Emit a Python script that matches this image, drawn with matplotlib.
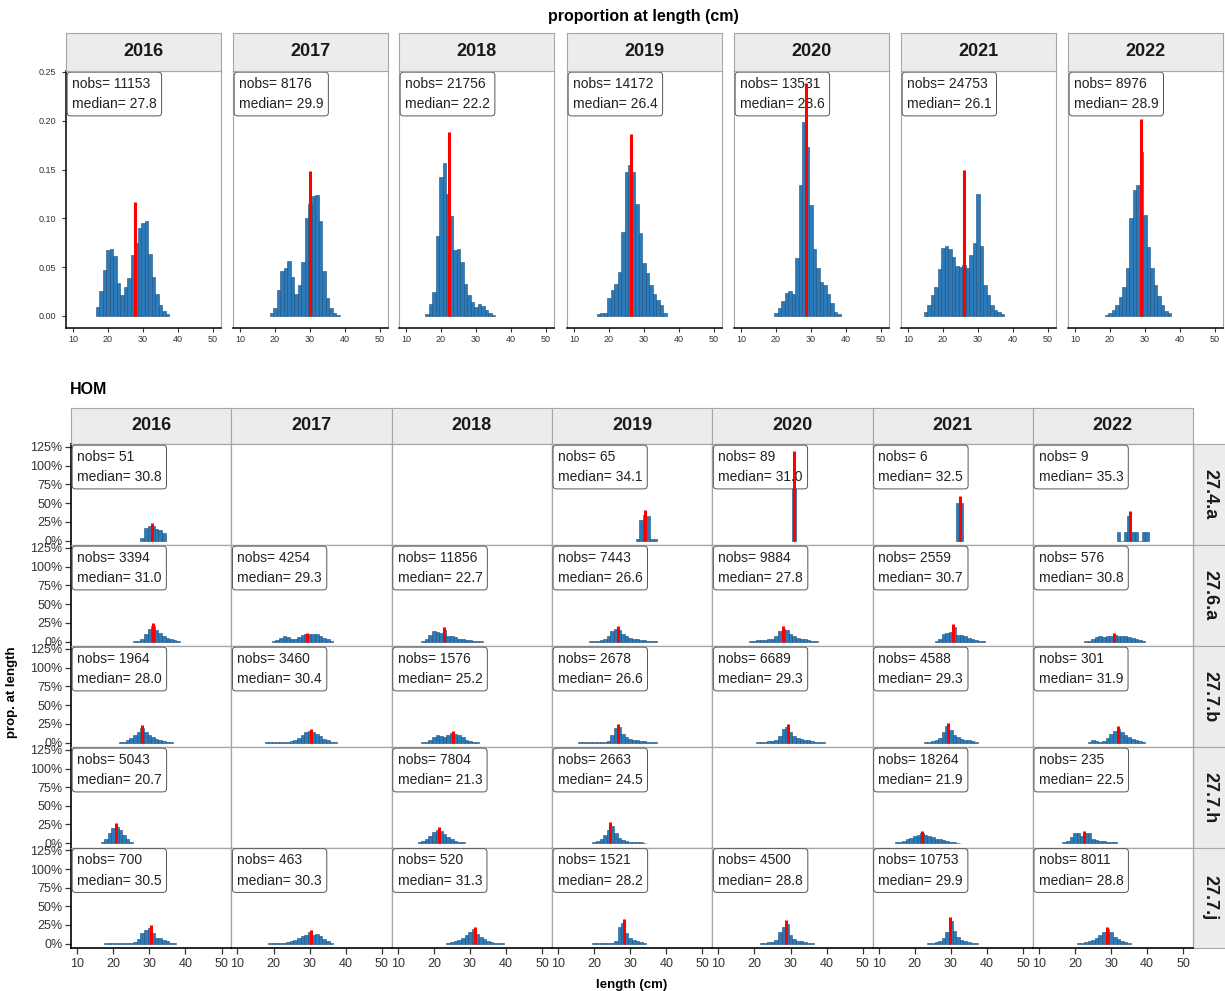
import matplotlib
matplotlib.use('Agg')
import matplotlib.pyplot as plt

plt.rcParams['font.family'] = ['Liberation Sans', 'DejaVu Sans']

# ---------------- data ----------------
years = ['2016', '2017', '2018', '2019', '2020', '2021', '2022']

# top panel: all areas combined
top_nobs = [11153, 8176, 21756, 14172, 13531, 24753, 8976]
top_median = [27.8, 29.9, 22.2, 26.4, 28.6, 26.1, 28.9]
top_start = [17, 19, 16, 17, 20, 15, 19]
top_p2016 = [0.009, 0.026, 0.047, 0.068, 0.069, 0.061, 0.034, 0.022, 0.030, 0.039, 0.062,
             0.075, 0.090, 0.095, 0.097, 0.064, 0.040, 0.023, 0.011, 0.005, 0.002]
top_p2017 = [0.003, 0.008, 0.027, 0.046, 0.049, 0.056, 0.040, 0.023, 0.032, 0.055, 0.100,
             0.115, 0.123, 0.124, 0.097, 0.046, 0.018, 0.008, 0.003, 0.001]
top_p2018 = [0.002, 0.012, 0.025, 0.082, 0.142, 0.157, 0.125, 0.102, 0.068, 0.069, 0.055,
             0.033, 0.022, 0.014, 0.009, 0.012, 0.010, 0.006, 0.003, 0.001]
top_p2019 = [0.002, 0.003, 0.003, 0.018, 0.027, 0.033, 0.045, 0.086, 0.148, 0.155, 0.148,
             0.115, 0.085, 0.054, 0.044, 0.032, 0.023, 0.016, 0.011, 0.003]
top_p2020 = [0.003, 0.008, 0.015, 0.024, 0.026, 0.023, 0.059, 0.134, 0.199, 0.173, 0.114,
             0.069, 0.049, 0.035, 0.032, 0.023, 0.013, 0.004, 0.002]
top_p2021 = [0.004, 0.011, 0.021, 0.030, 0.048, 0.070, 0.072, 0.069, 0.060, 0.051, 0.050,
             0.052, 0.049, 0.062, 0.075, 0.125, 0.072, 0.032, 0.022, 0.011, 0.006, 0.004, 0.002]
top_p2022 = [0.001, 0.003, 0.006, 0.011, 0.019, 0.030, 0.049, 0.100, 0.129, 0.134, 0.168,
             0.103, 0.071, 0.049, 0.032, 0.020, 0.011, 0.005, 0.003]
top_props = [top_p2016, top_p2017, top_p2018, top_p2019, top_p2020, top_p2021, top_p2022]

# bottom panel: HOM by area
areas = ['27.4.a', '27.6.a', '27.7.b', '27.7.h', '27.7.j']

a274a_nobs = [51, None, None, 65, 89, 6, 9]
a274a_median = [30.8, None, None, 34.1, 31.0, 32.5, 35.3]
a274a_start = [28, None, None, 32, 31, 32, 32]
a274a_props = [[0.04, 0.17, 0.19, 0.20, 0.16, 0.14, 0.10], None, None,
               [0.015, 0.28, 0.34, 0.33, 0.02, 0.015], [1.0], [0.5, 0.5],
               [0.111, 0, 0.111, 0.333, 0.111, 0.111, 0, 0.111, 0.111]]

a276a_nobs = [3394, 4254, 11856, 7443, 9884, 2559, 576]
a276a_median = [31.0, 29.3, 22.7, 26.6, 27.8, 30.7, 30.8]
a276a_start = [26, 20, 17, 19, 19, 26, 23]
a276a_props = [[0.005, 0.01, 0.04, 0.10, 0.17, 0.21, 0.15, 0.11, 0.08, 0.05, 0.03, 0.015, 0.01],
               [0.01, 0.02, 0.05, 0.07, 0.06, 0.04, 0.03, 0.06, 0.09, 0.10, 0.10, 0.10, 0.10,
                0.08, 0.05, 0.03, 0.01],
               [0.01, 0.03, 0.09, 0.14, 0.13, 0.11, 0.16, 0.07, 0.07, 0.06, 0.04, 0.03, 0.02,
                0.015, 0.01, 0.01, 0.005],
               [0.005, 0.005, 0.01, 0.02, 0.04, 0.08, 0.14, 0.17, 0.15, 0.10, 0.07, 0.05, 0.04,
                0.03, 0.02, 0.015, 0.01, 0.005, 0.005],
               [0.005, 0.01, 0.015, 0.02, 0.025, 0.03, 0.04, 0.07, 0.14, 0.17, 0.15, 0.10, 0.07,
                0.05, 0.04, 0.03, 0.02, 0.01, 0.005],
               [0.005, 0.03, 0.10, 0.12, 0.13, 0.19, 0.09, 0.09, 0.07, 0.05, 0.04, 0.02, 0.01, 0.005],
               [0.005, 0.01, 0.04, 0.06, 0.07, 0.06, 0.08, 0.07, 0.09, 0.08, 0.07, 0.08, 0.06,
                0.05, 0.03, 0.02, 0.01]]

a277b_nobs = [1964, 3460, 1576, 2678, 6689, 4588, 301]
a277b_median = [28.0, 30.4, 25.2, 26.6, 29.3, 29.3, 31.9]
a277b_start = [22, 18, 17, 16, 21, 23, 24]
a277b_props = [[0.005, 0.01, 0.03, 0.06, 0.10, 0.14, 0.19, 0.14, 0.10, 0.07, 0.05, 0.03, 0.02, 0.01, 0.005],
               [0.003, 0.005, 0.008, 0.01, 0.01, 0.008, 0.01, 0.015, 0.03, 0.06, 0.10, 0.14, 0.15,
                0.14, 0.12, 0.09, 0.05, 0.03, 0.01, 0.005],
               [0.005, 0.01, 0.03, 0.07, 0.10, 0.09, 0.07, 0.10, 0.13, 0.12, 0.10, 0.07, 0.04, 0.02,
                0.01, 0.005],
               [0.003, 0.004, 0.005, 0.005, 0.004, 0.005, 0.005, 0.006, 0.02, 0.10, 0.19, 0.21, 0.12,
                0.08, 0.05, 0.03, 0.03, 0.02, 0.02, 0.01, 0.01, 0.005],
               [0.005, 0.005, 0.01, 0.015, 0.02, 0.04, 0.09, 0.18, 0.21, 0.14, 0.09, 0.06, 0.05,
                0.04, 0.03, 0.02, 0.01, 0.01, 0.005],
               [0.005, 0.01, 0.02, 0.03, 0.06, 0.14, 0.22, 0.17, 0.10, 0.07, 0.05, 0.04, 0.03, 0.02, 0.01],
               [0.01, 0.03, 0.02, 0.01, 0.02, 0.06, 0.11, 0.15, 0.18, 0.14, 0.10, 0.07, 0.05, 0.03,
                0.02, 0.01]]

a277h_nobs = [5043, None, 7804, 2663, None, 18264, 235]
a277h_median = [20.7, None, 21.3, 24.5, None, 21.9, 22.5]
a277h_start = [17, None, 16, 20, None, 15, 17]
a277h_props = [[0.02, 0.06, 0.14, 0.20, 0.22, 0.18, 0.11, 0.05, 0.02], None,
               [0.01, 0.03, 0.06, 0.10, 0.15, 0.18, 0.16, 0.12, 0.08, 0.05, 0.03, 0.02, 0.01],
               [0.01, 0.03, 0.06, 0.11, 0.17, 0.23, 0.13, 0.07, 0.04, 0.03, 0.02, 0.02, 0.01,
                0.01, 0.005], None,
               [0.01, 0.02, 0.03, 0.05, 0.07, 0.09, 0.11, 0.13, 0.11, 0.09, 0.08, 0.06, 0.05, 0.04,
                0.03, 0.02, 0.01, 0.005],
               [0.02, 0.03, 0.08, 0.13, 0.14, 0.09, 0.14, 0.13, 0.06, 0.04, 0.03, 0.03, 0.02, 0.02, 0.01]]

a277j_nobs = [700, 463, 520, 1521, 4500, 10753, 8011]
a277j_median = [30.5, 30.3, 31.3, 28.2, 28.8, 29.9, 28.8]
a277j_start = [18, 19, 24, 20, 22, 24, 21]
a277j_props = [[0.003, 0.003, 0.003, 0.003, 0.003, 0.003, 0.003, 0.003, 0.02, 0.06, 0.14, 0.18,
                0.21, 0.14, 0.08, 0.07, 0.05, 0.03, 0.01, 0.005],
               [0.005, 0.005, 0.005, 0.005, 0.01, 0.02, 0.03, 0.05, 0.08, 0.10, 0.12, 0.15, 0.12,
                0.13, 0.10, 0.06, 0.03, 0.01],
               [0.01, 0.02, 0.03, 0.05, 0.08, 0.12, 0.16, 0.19, 0.13, 0.09, 0.06, 0.04, 0.02, 0.01,
                0.005, 0.005],
               [0.01, 0.005, 0.005, 0.005, 0.005, 0.01, 0.03, 0.22, 0.28, 0.14, 0.08, 0.05, 0.03, 0.02, 0.01],
               [0.005, 0.01, 0.015, 0.02, 0.05, 0.16, 0.22, 0.26, 0.12, 0.06, 0.04, 0.03, 0.02, 0.01, 0.005],
               [0.005, 0.01, 0.02, 0.04, 0.08, 0.15, 0.30, 0.17, 0.09, 0.05, 0.03, 0.02, 0.01, 0.005],
               [0.005, 0.01, 0.02, 0.03, 0.05, 0.08, 0.12, 0.15, 0.19, 0.15, 0.09, 0.06, 0.03, 0.02, 0.01]]

area_nobs = [a274a_nobs, a276a_nobs, a277b_nobs, a277h_nobs, a277j_nobs]
area_median = [a274a_median, a276a_median, a277b_median, a277h_median, a277j_median]
area_start = [a274a_start, a276a_start, a277b_start, a277h_start, a277j_start]
area_props = [a274a_props, a276a_props, a277b_props, a277h_props, a277j_props]

# ---------------- styling ----------------
W, H = 1225, 991
fig = plt.figure(figsize=(W / 100, H / 100), dpi=100)

BAR = '#2b7bba'
BAR_EDGE = '#1f4f7a'
BORDER = '#a6a6a6'
STRIP = '#ececec'


def px_axes(x0, y0, x1, y1):
    return fig.add_axes([x0 / W, 1 - y1 / H, (x1 - x0) / W, (y1 - y0) / H])


def strip_axes(x0, y0, x1, y1, label, rotation=0):
    s = px_axes(x0, y0, x1, y1)
    s.set_facecolor(STRIP)
    s.set_xticks([])
    s.set_yticks([])
    for sp in s.spines.values():
        sp.set_color(BORDER)
        sp.set_linewidth(0.8)
    s.text(0.5, 0.5, label, transform=s.transAxes, ha='center', va='center',
           fontsize=13, fontweight='bold', rotation=rotation, color='#1a1a1a')
    return s


def draw_hist(ax, start, props, median, nobs):
    lengths = list(range(start, start + len(props)))
    ax.bar(lengths, props, width=1.0, color=BAR, edgecolor=BAR_EDGE, linewidth=0.4, zorder=2)
    ax.annotate(f"nobs= {nobs}\nmedian= {median:.1f}", xy=(0, 1), xycoords='axes fraction',
                xytext=(6, -6), textcoords='offset pixels', ha='left', va='top',
                fontsize=10, linespacing=1.55, color='#222222', zorder=3,
                bbox=dict(boxstyle='round,pad=0.35,rounding_size=0.25', fc='white',
                          ec='#555555', lw=0.7))
    ax.vlines(median, 0, 1.2 * max(props), color='red', linewidth=2.2, zorder=4)


# ---------------- top panels ----------------
fig.text(643 / W, 1 - 17 / H, 'proportion at length (cm)', ha='center', va='center',
         fontsize=11.5, fontweight='bold')

top_left = [66, 233, 399, 567, 734, 901, 1068]
for i, yr in enumerate(years):
    x0 = top_left[i]
    ax = px_axes(x0, 71, x0 + 155, 328)
    strip_axes(x0, 33, x0 + 155, 71, yr)
    draw_hist(ax, top_start[i], top_props[i], top_median[i], top_nobs[i])
    ax.set_xlim(8, 52.3)
    ax.set_ylim(-0.0123, 0.251)
    ax.set_xticks([10, 20, 30, 40, 50])
    ax.tick_params(axis='x', labelsize=6.5, length=3, width=0.8, pad=2, colors='#333333')
    ax.set_yticks([0, 0.05, 0.10, 0.15, 0.20, 0.25])
    for sp in ax.spines.values():
        sp.set_color(BORDER)
        sp.set_linewidth(0.8)
    ax.spines['bottom'].set_color('black')
    ax.spines['bottom'].set_linewidth(1.1)
    if i == 0:
        ax.set_yticklabels(['0.00', '0.05', '0.10', '0.15', '0.20', '0.25'])
        ax.tick_params(axis='y', labelsize=6.5, length=3, width=0.8, pad=4, colors='#333333')
        ax.spines['left'].set_color('black')
        ax.spines['left'].set_linewidth(1.1)
    else:
        ax.tick_params(axis='y', length=0, labelleft=False)

# ---------------- bottom grid ----------------
fig.text(70 / W, 1 - 390 / H, 'HOM', ha='left', va='center', fontsize=11.5, fontweight='bold')

col_edges = [71, 231.3, 391.6, 551.9, 712.2, 872.5, 1032.8, 1193]
row_edges = [444, 545, 646, 747, 847.5, 948]

for c, yr in enumerate(years):
    strip_axes(col_edges[c], 408, col_edges[c + 1], 444, yr)
for r, area in enumerate(areas):
    strip_axes(1193, row_edges[r], 1227, row_edges[r + 1], area, rotation=-90)

for r, area in enumerate(areas):
    for c, yr in enumerate(years):
        ax = px_axes(col_edges[c], row_edges[r], col_edges[c + 1], row_edges[r + 1])
        props = area_props[r][c]
        if props is not None:
            draw_hist(ax, area_start[r][c], props, area_median[r][c], area_nobs[r][c])
        ax.set_xlim(8.3, 52.7)
        ax.set_ylim(-0.06, 1.29)
        ax.set_xticks([10, 20, 30, 40, 50])
        ax.set_yticks([0, 0.25, 0.5, 0.75, 1.0, 1.25])
        for sp in ax.spines.values():
            sp.set_color(BORDER)
            sp.set_linewidth(0.9)
        if c == 0:
            ax.set_yticklabels(['0%', '25%', '50%', '75%', '100%', '125%'])
            ax.tick_params(axis='y', labelsize=9, length=4, width=0.9, pad=2, colors='#333333')
            ax.spines['left'].set_color('black')
            ax.spines['left'].set_linewidth(1.2)
        else:
            ax.tick_params(axis='y', length=0, labelleft=False)
        if r == len(areas) - 1:
            ax.tick_params(axis='x', labelsize=9, length=4, width=0.9, pad=3, colors='#333333')
            ax.spines['bottom'].set_color('black')
            ax.spines['bottom'].set_linewidth(1.2)
        else:
            ax.tick_params(axis='x', length=0, labelbottom=False)

fig.text(12 / W, 1 - 692 / H, 'prop. at length', rotation=90, ha='center', va='center',
         fontsize=9.5, fontweight='bold')
fig.text(632 / W, 1 - 979 / H, 'length (cm)', ha='center', va='top',
         fontsize=9.5, fontweight='bold')

fig.savefig('out.png', dpi=100)
